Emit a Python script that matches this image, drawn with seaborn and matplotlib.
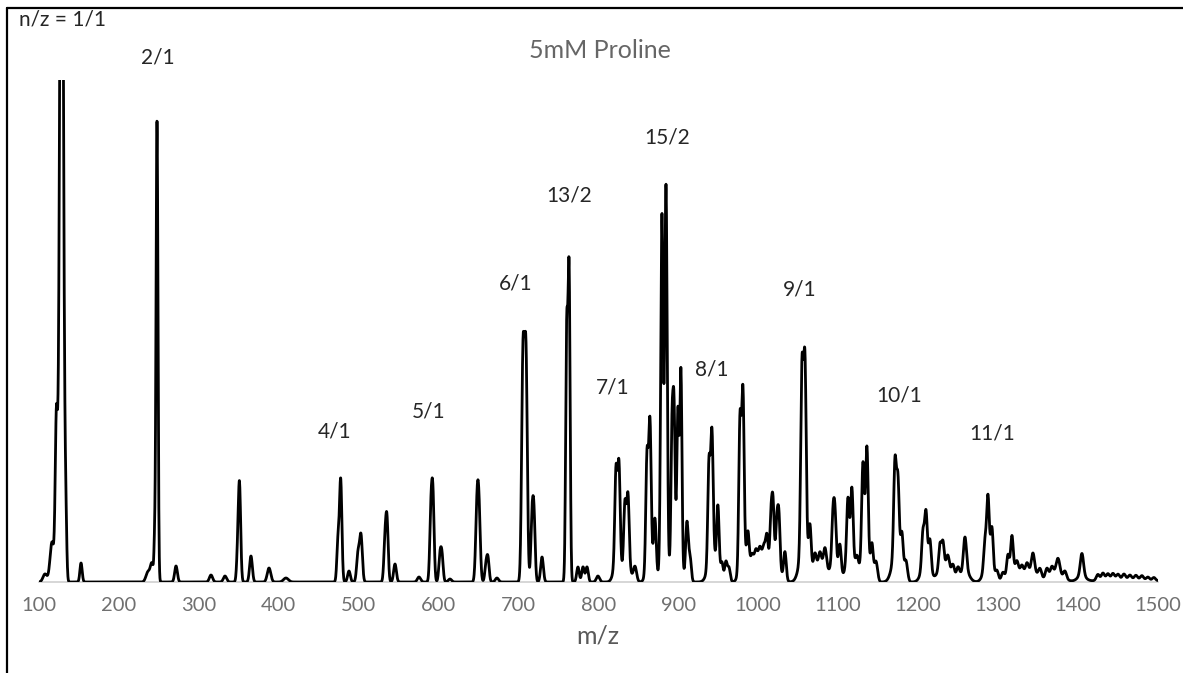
import numpy as np
import pandas as pd
import matplotlib
matplotlib.use("Agg")
import matplotlib.pyplot as plt
from matplotlib.lines import Line2D
import seaborn as sns

# Peak list of the spectrum: centre (m/z), height (a.u.) and Gaussian width (m/z)
peak_mz = [
    107.5, 116.3, 121.8, 128.2, 133.5, 152.6,
    236.4, 241.4, 244.8, 247.7, 271.5, 315.3, 332.8,
    348.4, 350.9, 365.3, 387.9, 409.1,
    474.2, 477.6, 488.0, 499.3, 503.0, 533.1, 535.6, 545.6, 575.6,
    590.6, 593.1, 601.9, 604.4, 614.4, 648.2, 650.7, 659.5, 662.0, 673.2,
    705.8, 709.5, 717.0, 719.5, 729.6,
    760.5, 763.5, 774.6, 780.9, 785.9, 799.6,
    822.2, 825.9, 833.4, 837.2, 846.0,
    861.0, 864.7, 871.0, 879.7, 884.8,
    892.3, 894.8, 899.8, 903.5, 911.0, 914.8,
    938.6, 942.3, 949.8, 954.8, 959.8, 963.6,
    977.4, 981.1, 987.4, 992.4, 997.4, 1002.4, 1007.4, 1011.2,
    1016.2, 1018.7, 1023.7, 1026.2, 1033.7,
    1055.0, 1058.7, 1065.0, 1071.2, 1077.5, 1083.8,
    1093.8, 1096.3, 1102.5, 1112.5, 1117.5, 1123.8,
    1131.3, 1136.3, 1142.6, 1147.6,
    1171.4, 1175.1, 1180.1, 1185.1, 1206.4, 1210.2, 1215.2,
    1227.7, 1231.4, 1237.7, 1244.0, 1250.2, 1259.0,
    1284.0, 1287.8, 1292.8, 1299.0, 1306.5, 1312.8, 1317.8,
    1324.1, 1330.3, 1336.6, 1344.1, 1352.9, 1361.6, 1367.9, 1375.4, 1384.1,
    1405.4, 1425.4, 1431.7, 1437.9, 1444.2, 1450.5, 1458.0, 1465.5,
    1473.0, 1480.5, 1488.0, 1495.5,
    # broad underlying envelopes of the crowded clusters
    824.0, 836.0, 865.0, 882.0, 898.0, 943.0, 981.0, 1000.0, 1021.0,
    1057.0, 1078.0, 1096.0, 1115.0, 1134.0, 1173.0, 1210.0, 1232.0,
    1259.0, 1288.0, 1318.0, 1335.0, 1345.0, 1372.0, 1405.0, 1460.0,
]
peak_height = [
    8, 40, 160, 900, 55, 19,
    10, 18, 35, 462, 16, 7, 6,
    20, 98, 26, 14, 4,
    40, 102, 11, 28, 46, 38, 58, 18, 5,
    66, 80, 25, 25, 3, 68, 66, 16, 22, 4,
    222, 222, 58, 64, 25,
    245, 305, 15, 15, 15, 6,
    90, 95, 62, 68, 15,
    112, 135, 55, 342, 372,
    128, 135, 135, 190, 58, 25,
    100, 120, 65, 18, 20, 14,
    145, 163, 38, 18, 20, 22, 25, 32,
    45, 55, 40, 48, 28,
    180, 185, 45, 20, 18, 24,
    45, 45, 28, 62, 72, 18,
    95, 110, 32, 20,
    92, 75, 38, 20, 35, 50, 30,
    25, 25, 16, 14, 12, 33,
    26, 66, 42, 10, 8, 20, 35,
    12, 10, 11, 19, 9, 10, 10, 18, 8,
    22, 6, 7, 6, 6, 5, 5, 4,
    4, 4, 3, 3,
    25, 20, 25, 30, 40, 30, 25, 12, 22,
    35, 12, 20, 25, 28, 30, 20, 15,
    12, 20, 10, 6, 6, 6, 6, 3,
]
peak_width = [
    2.5, 2.5, 1.5, 2.2, 1.2, 1.4,
    2.5, 2.0, 0.9, 1.2, 1.7, 2.0, 2.0,
    1.3, 1.5, 1.7, 2.2, 3.0,
    1.4, 1.5, 1.7, 1.7, 1.7, 1.5, 1.5, 1.7, 2.0,
    1.5, 1.5, 1.5, 1.5, 2.0, 1.7, 1.7, 1.5, 1.5, 2.0,
    1.7, 1.7, 1.5, 1.5, 1.7,
    1.3, 1.3, 1.6, 1.6, 1.6, 2.0,
    1.5, 1.5, 1.5, 1.5, 2.0,
    1.5, 1.5, 1.6, 1.5, 1.5,
    1.3, 1.3, 1.3, 1.3, 1.6, 1.6,
    1.5, 1.5, 1.5, 1.6, 1.6, 1.6,
    1.5, 1.5, 1.6, 2.0, 2.0, 2.0, 2.0, 1.6,
    1.4, 1.4, 1.4, 1.4, 1.6,
    1.6, 1.6, 1.6, 2.0, 2.0, 2.0,
    1.5, 1.5, 1.6, 1.6, 1.6, 2.0,
    1.6, 1.6, 1.6, 2.0,
    1.6, 1.6, 1.6, 2.0, 1.6, 1.6, 1.6,
    1.6, 1.6, 2.0, 2.0, 2.0, 1.9,
    1.6, 1.6, 1.6, 2.0, 2.0, 1.6, 1.6,
    2.0, 2.0, 2.0, 2.0, 2.0, 2.0, 2.0, 2.5, 2.0,
    2.0, 2.0, 2.0, 2.0, 2.0, 2.0, 2.0, 2.0,
    2.0, 2.0, 2.0, 2.0,
    4, 4, 4, 4, 5, 5, 4, 10, 6,
    5, 8, 5, 5, 5, 5, 5, 7,
    5, 5, 6, 10, 6, 10, 5, 30,
]

# Cluster labels (n/z) and where they sit
label_text = ["n/z = 1/1", "2/1", "4/1", "5/1", "6/1", "13/2", "15/2",
              "7/1", "8/1", "9/1", "10/1", "11/1"]
label_mz = [129, 249, 470, 588, 697, 763, 886, 818, 942, 1052, 1176, 1293]
label_y = [562, 524, 150, 170, 299, 387, 444, 194, 212, 292, 186, 149]

title = "5mM Proline"
x_ticks = list(range(100, 1501, 100))

# Build the profile spectrum from the peak list
mz = np.arange(100, 1500.01, 0.2)
c = np.asarray(peak_mz)[:, None]
h = np.asarray(peak_height)[:, None]
w = np.asarray(peak_width)[:, None]
intensity = (h * np.exp(-0.5 * ((mz[None, :] - c) / w) ** 2)).sum(axis=0)
spectrum = pd.DataFrame({"m/z": mz, "intensity": intensity})

sns.set_theme(style="white")
plt.rcParams["font.family"] = ["Lato", "DejaVu Sans"]

W, H = 1183, 673
fig = plt.figure(figsize=(W / 100, H / 100), dpi=100)
ax = fig.add_axes([39 / W, (H - 582) / H, 1118.5 / W, 502 / H])

sns.lineplot(data=spectrum, x="m/z", y="intensity", ax=ax, color="black",
             linewidth=2.0, estimator=None, sort=False)

ax.set_xlim(100, 1500)
ax.set_ylim(0, 502)
ax.set_xticks(x_ticks)
ax.set_xticklabels([str(t) for t in x_ticks])
ax.set_yticks([])
ax.set_ylabel("")
ax.tick_params(axis="x", length=0, pad=11, labelsize=14.5, labelcolor="#707070")
ax.set_xlabel("m/z", fontsize=18, color="#595959", labelpad=7)
for side in ("top", "right", "left"):
    ax.spines[side].set_visible(False)
ax.spines["bottom"].set_color("#cfcfcf")
ax.spines["bottom"].set_linewidth(1.2)
ax.spines["bottom"].set_zorder(0)

for txt, xm, ym in zip(label_text, label_mz, label_y):
    ax.text(xm, ym, txt, ha="center", va="center", fontsize=15,
            color="#262626", clip_on=False)

fig.text(600 / W, 1 - 50 / H, title, ha="center", va="center",
         fontsize=18, color="#666666")

# Outer frame on the left and top
fig.add_artist(Line2D([7 / W, 7 / W], [0, 1 - 8 / H], transform=fig.transFigure,
                      color="black", linewidth=1.6))
fig.add_artist(Line2D([7 / W, 1], [1 - 8 / H, 1 - 8 / H], transform=fig.transFigure,
                      color="black", linewidth=1.6))

fig.savefig("out.png", dpi=100)
